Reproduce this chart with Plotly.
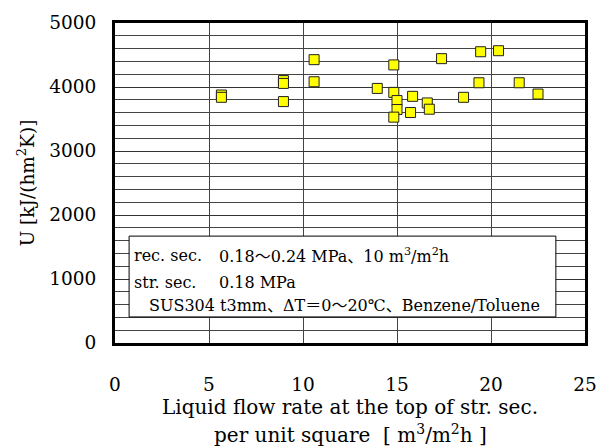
import plotly.graph_objects as go

flow_rate = [5.66, 5.66, 8.96, 8.96, 8.96, 10.59, 10.59, 13.95, 14.83, 14.83, 15.0, 15.0,
             14.83, 15.83, 15.72, 16.61, 16.72, 17.37, 18.54, 19.45, 19.36, 20.4, 21.5, 22.5]
u_value = [3875, 3839, 4100, 4056, 3772, 4427, 4082, 3978, 4345, 3916, 3788, 3648,
           3529, 3854, 3601, 3751, 3653, 4443, 3839, 4551, 4066, 4567, 4066, 3890]

x_ticks = [0, 5, 10, 15, 20, 25]
y_ticks = [0, 1000, 2000, 3000, 4000, 5000]

FONT = "DejaVu Serif, Liberation Serif, Noto Sans CJK JP, serif"

fig = go.Figure()
fig.add_trace(go.Scatter(
    x=flow_rate, y=u_value, mode="markers",
    marker=dict(symbol="square", size=10, color="#ffff00",
                line=dict(color="#222222", width=1)),
    showlegend=False, hoverinfo="skip"))

fig.update_layout(
    width=609, height=448,
    margin=dict(l=115, r=18, t=20, b=105),
    paper_bgcolor="white", plot_bgcolor="white",
    font=dict(family=FONT, size=18, color="black"),
)

fig.update_xaxes(
    range=[0, 25], tickvals=x_ticks, ticks="", ticklabelstandoff=23,
    showgrid=True, gridcolor="#444444", gridwidth=1,
    showline=True, linecolor="black", linewidth=3, mirror=True,
    zeroline=False, tickfont=dict(size=18.5, family=FONT))

fig.update_yaxes(
    range=[0, 5000], tickvals=y_ticks, ticks="", ticklabelstandoff=12,
    showgrid=True, gridcolor="#333333", gridwidth=1,
    minor=dict(dtick=200, showgrid=True, gridcolor="#444444", gridwidth=1),
    showline=True, linecolor="black", linewidth=3, mirror=True,
    zeroline=False, tickfont=dict(size=18.5, family=FONT),
    title=dict(text="U [kJ/(hm<sup>2</sup>K)]", font=dict(size=18.5, family=FONT), standoff=10))

# x-axis title as two centered lines
fig.add_annotation(xref="paper", yref="paper", x=0.5, y=-0.20, yanchor="middle",
                   text="Liquid flow rate at the top of str. sec.", showarrow=False,
                   font=dict(size=20, family=FONT))
fig.add_annotation(xref="paper", yref="paper", x=0.5, y=-0.285, yanchor="middle",
                   text="per unit square  [ m<sup>3</sup>/m<sup>2</sup>h ]", showarrow=False,
                   font=dict(size=20, family=FONT))

# condition box
fig.add_shape(type="rect", xref="paper", yref="paper", x0=0.030, x1=0.938, y0=0.0814, y1=0.334,
              fillcolor="white", line=dict(color="black", width=1), layer="above")
lf = dict(size=16, family=FONT)
fig.add_annotation(xref="paper", yref="paper", x=0.037, y=0.272, xanchor="left", yanchor="middle",
                   text="rec. sec.", showarrow=False, font=lf)
fig.add_annotation(xref="paper", yref="paper", x=0.216, y=0.272, xanchor="left", yanchor="middle",
                   text="0.18〜0.24 MPa、10 m<sup>3</sup>/m<sup>2</sup>h", showarrow=False, font=lf)
fig.add_annotation(xref="paper", yref="paper", x=0.037, y=0.190, xanchor="left", yanchor="middle",
                   text="str. sec.", showarrow=False, font=lf)
fig.add_annotation(xref="paper", yref="paper", x=0.216, y=0.190, xanchor="left", yanchor="middle",
                   text="0.18 MPa", showarrow=False, font=lf)
fig.add_annotation(xref="paper", yref="paper", x=0.068, y=0.118, xanchor="left", yanchor="middle",
                   text="SUS304 t3mm、ΔT＝0〜20℃、Benzene/Toluene", showarrow=False, font=lf)

fig.write_html("out.html", config={"displayModeBar": False},
               post_script="document.body.style.margin='0';document.body.style.overflow='hidden';")
